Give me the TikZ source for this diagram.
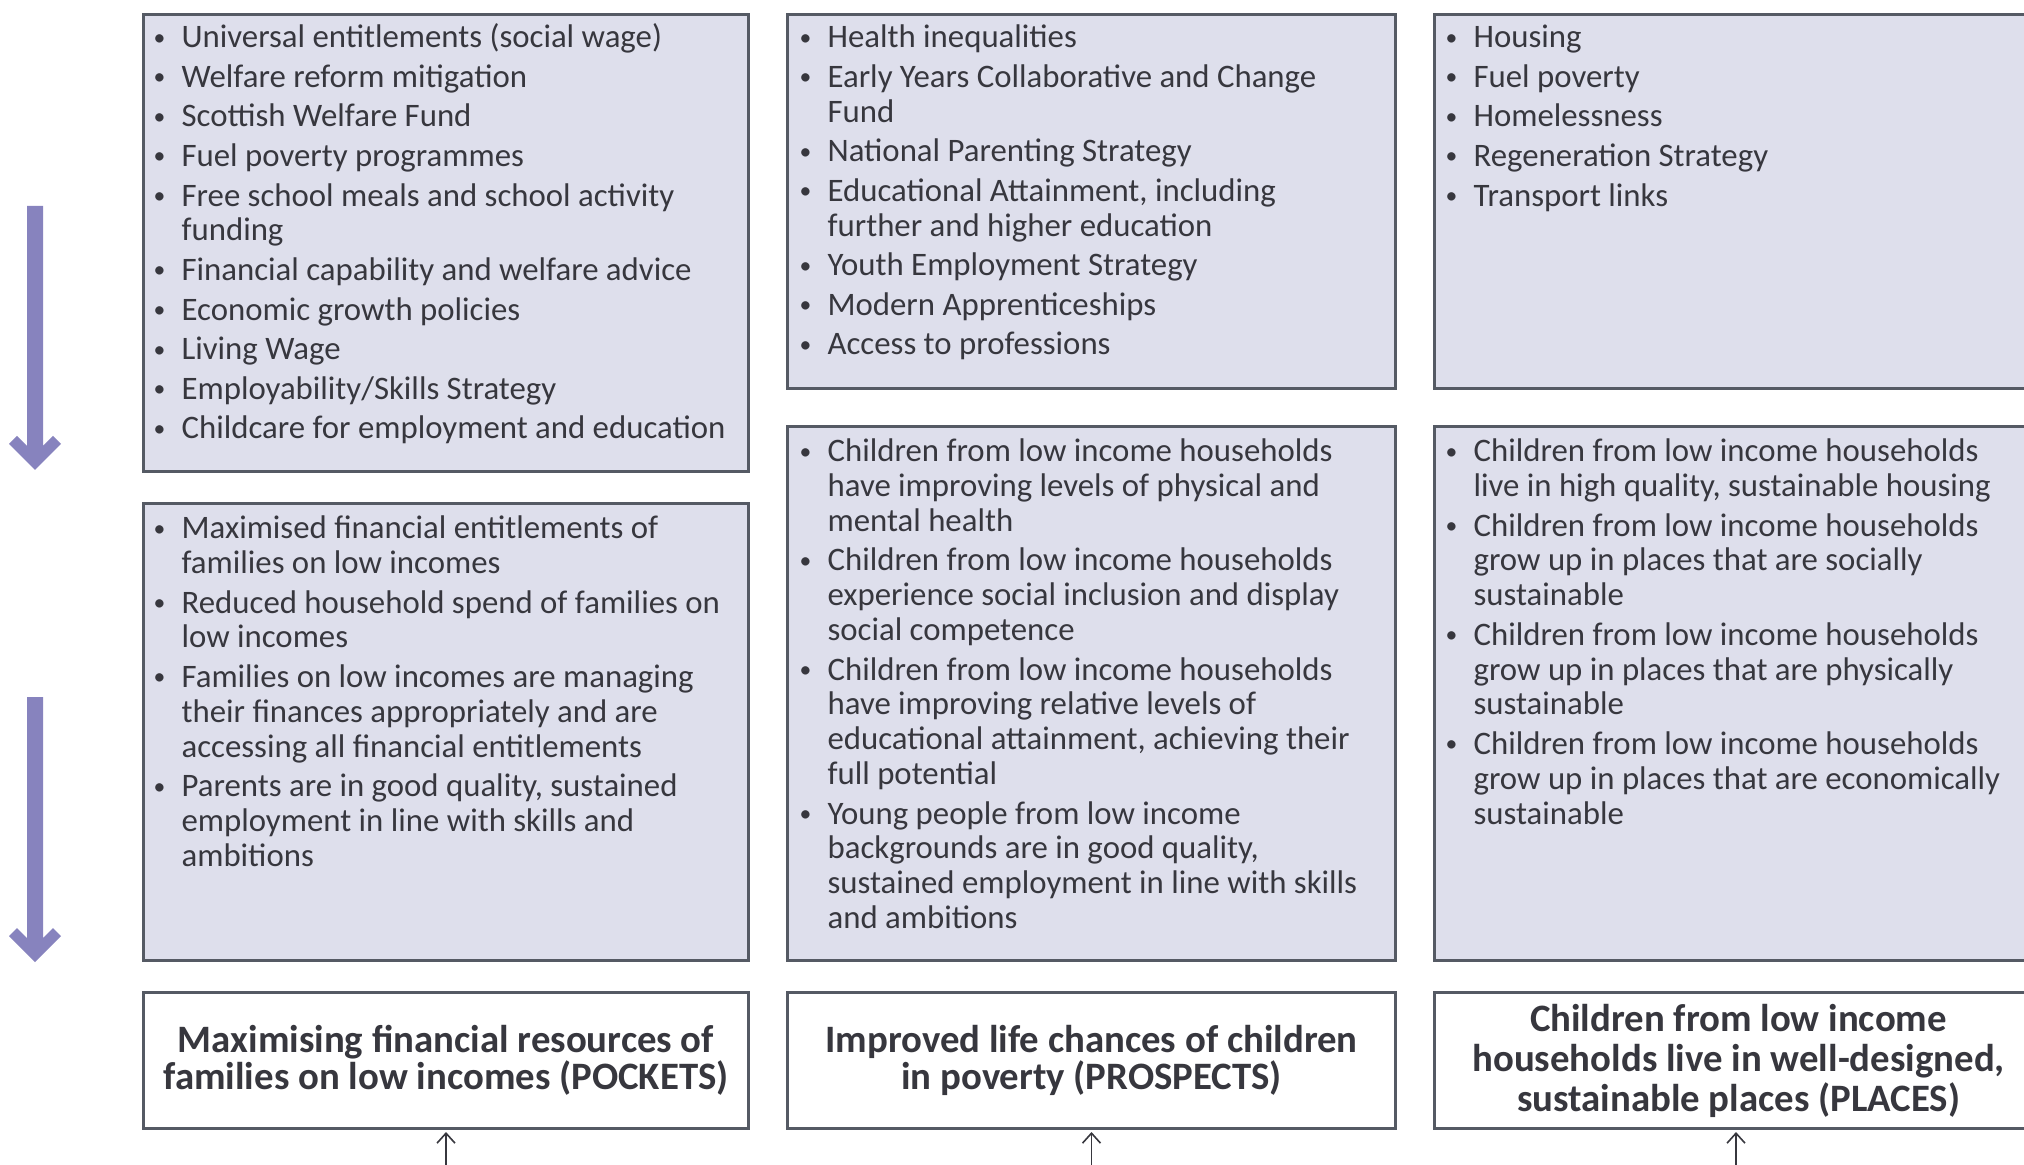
\documentclass[tikz,border=0pt]{standalone}
\usepackage{fontspec}
\setmainfont{Carlito}
\usetikzlibrary{arrows.meta}
\definecolor{boxfill}{RGB}{222,223,236}
\definecolor{boxline}{RGB}{85,90,100}
\definecolor{arrowc}{RGB}{135,131,190}
\definecolor{txt}{RGB}{55,55,62}
\newcommand{\bl}[1]{\makebox[14.6pt][l]{\strut\hspace*{0.6pt}\raisebox{1.3pt}{\scalebox{0.72}{\textbullet}}}#1}
\newcommand{\ct}[1]{\hspace*{14.6pt}#1}
\tikzset{
  listbox/.style={draw=boxline, line width=1.5pt, fill=boxfill, anchor=north west, inner sep=0pt},
  titlebox/.style={draw=boxline, line width=1.5pt, fill=white, anchor=north west, inner sep=0pt},
  listtext/.style={anchor=north west, align=left, inner sep=0pt, text=txt,
    font=\fontsize{16.4pt}{17.4pt}\selectfont},
  titletext/.style={align=center, inner sep=0pt, text=txt,
    font=\bfseries\fontsize{19.4pt}{18.5pt}\selectfont},
  bigarrow/.style={fill=arrowc, draw=none},
  smallarrow/.style={draw=txt, line width=0.8pt, -{Straight Barb[length=5pt,width=9pt]}}
}
\begin{document}
\begin{tikzpicture}[x=0.5pt,y=-0.5pt]
\useasboundingbox (0,0) rectangle (2024,1165);

% boxes
\node[listbox, minimum width=302.5pt, minimum height=228.5pt] (b11) at (142,13) {};
\node[listbox, minimum width=302.5pt, minimum height=228.5pt] (b12) at (142,502) {};
\node[listbox, minimum width=304pt, minimum height=187pt] (b21) at (786,13) {};
\node[listbox, minimum width=304pt, minimum height=267pt] (b22) at (786,425) {};
\node[listbox, minimum width=310pt, minimum height=187pt] (b31) at (1433,13) {};
\node[listbox, minimum width=310pt, minimum height=267pt] (b32) at (1433,425) {};
\node[titlebox, minimum width=302.5pt, minimum height=68pt] (t1) at (142,991) {};
\node[titlebox, minimum width=304pt, minimum height=68pt] (t2) at (786,991) {};
\node[titlebox, minimum width=310pt, minimum height=68pt] (t3) at (1433,991) {};

% list texts
\node[listtext] (x11) at (152,23) {%
\bl{Universal entitlements (social wage)}\\[2.4pt]
\bl{Welfare reform mitigation}\\[2.4pt]
\bl{Scottish Welfare Fund}\\[2.4pt]
\bl{Fuel poverty programmes}\\[2.4pt]
\bl{Free school meals and school activity}\\
\ct{funding}\\[2.4pt]
\bl{Financial capability and welfare advice}\\[2.4pt]
\bl{Economic growth policies}\\[2.4pt]
\bl{Living Wage}\\[2.4pt]
\bl{Employability/Skills Strategy}\\[2.4pt]
\bl{Childcare for employment and education}};

\node[listtext] (x12) at (152,514) {%
\bl{Maximised financial entitlements of}\\
\ct{families on low incomes}\\[2.4pt]
\bl{Reduced household spend of families on}\\
\ct{low incomes}\\[2.4pt]
\bl{Families on low incomes are managing}\\
\ct{their finances appropriately and are}\\
\ct{accessing all financial entitlements}\\[2.4pt]
\bl{Parents are in good quality, sustained}\\
\ct{employment in line with skills and}\\
\ct{ambitions}};

\node[listtext] (x21) at (798,23) {%
\bl{Health inequalities}\\[2.4pt]
\bl{Early Years Collaborative and Change}\\
\ct{Fund}\\[2.4pt]
\bl{National Parenting Strategy}\\[2.4pt]
\bl{Educational Attainment, including}\\
\ct{further and higher education}\\[2.4pt]
\bl{Youth Employment Strategy}\\[2.4pt]
\bl{Modern Apprenticeships}\\[2.4pt]
\bl{Access to professions}};

\node[listtext] (x22) at (798,437) {%
\bl{Children from low income households}\\
\ct{have improving levels of physical and}\\
\ct{mental health}\\[2.4pt]
\bl{Children from low income households}\\
\ct{experience social inclusion and display}\\
\ct{social competence}\\[2.4pt]
\bl{Children from low income households}\\
\ct{have improving relative levels of}\\
\ct{educational attainment, achieving their}\\
\ct{full potential}\\[2.4pt]
\bl{Young people from low income}\\
\ct{backgrounds are in good quality,}\\
\ct{sustained employment in line with skills}\\
\ct{and ambitions}};

\node[listtext] (x31) at (1444,23) {%
\bl{Housing}\\[2.4pt]
\bl{Fuel poverty}\\[2.4pt]
\bl{Homelessness}\\[2.4pt]
\bl{Regeneration Strategy}\\[2.4pt]
\bl{Transport links}};

\node[listtext] (x32) at (1444,437) {%
\bl{Children from low income households}\\
\ct{live in high quality, sustainable housing}\\[2.4pt]
\bl{Children from low income households}\\
\ct{grow up in places that are socially}\\
\ct{sustainable}\\[2.4pt]
\bl{Children from low income households}\\
\ct{grow up in places that are physically}\\
\ct{sustainable}\\[2.4pt]
\bl{Children from low income households}\\
\ct{grow up in places that are economically}\\
\ct{sustainable}};

% titles
\node[titletext] (y1) at (t1.center) {Maximising financial resources of\\families on low incomes (POCKETS)};
\node[titletext] (y2) at (t2.center) {Improved life chances of children\\in poverty (PROSPECTS)};
\node[titletext, font=\bfseries\fontsize{19.4pt}{20pt}\selectfont] (y3) at ([xshift=-3pt]t3.center) {Children from low income\\households live in well-designed,\\sustainable places (PLACES)};

% left arrows
\fill[bigarrow] (27,206) -- (27,446) -- (17,436) -- (9,444) -- (35,470) -- (61,444) -- (53,436) -- (43,446) -- (43,206) -- cycle;
\fill[bigarrow] (27,697) -- (27,938) -- (17,928) -- (9,936) -- (35,962) -- (61,936) -- (53,928) -- (43,938) -- (43,697) -- cycle;

% bottom arrows
\coordinate (c1) at (t1.south |- 0,1175);
\coordinate (c2) at (t2.south |- 0,1175);
\coordinate (c3) at (1736,1175);
\draw[smallarrow] (c1) -- ([yshift=-1pt]t1.south);
\draw[smallarrow] (c2) -- ([yshift=-1pt]t2.south);
\draw[smallarrow] (c3) -- ([yshift=-1pt]t3.south -| c3);
\end{tikzpicture}
\end{document}
